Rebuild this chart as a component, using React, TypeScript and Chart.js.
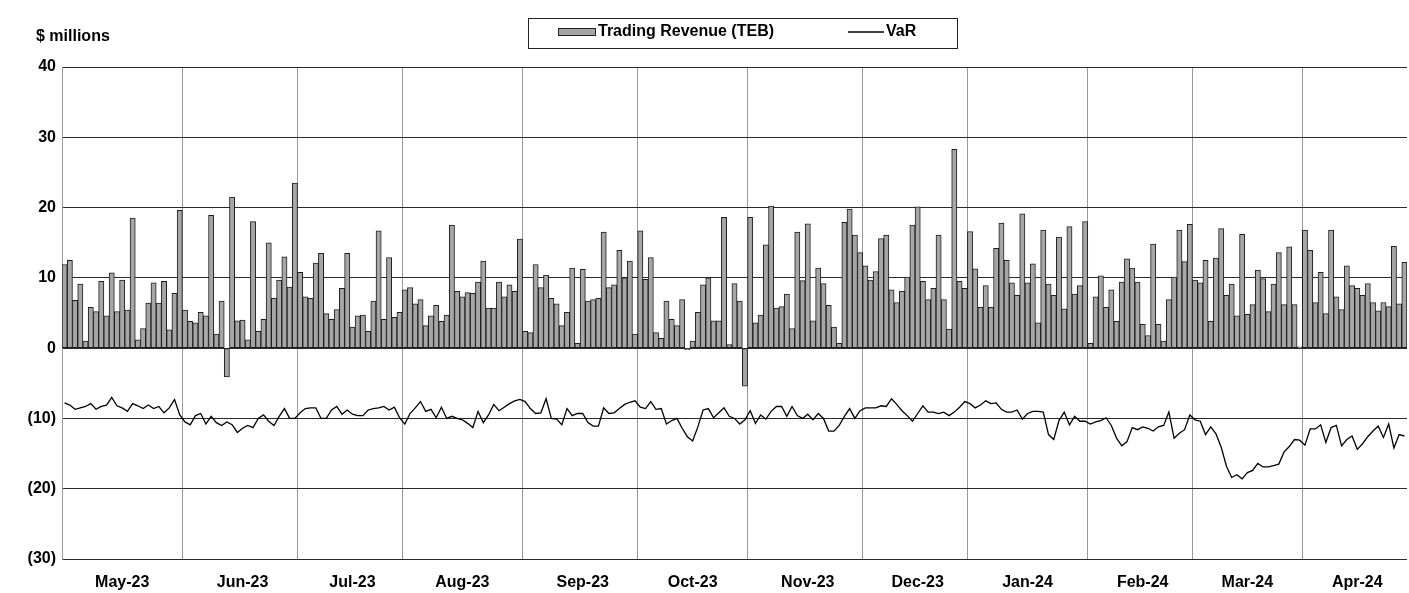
import React, { useEffect, useRef } from 'react';
import { Chart, registerables } from 'chart.js';

Chart.register(...registerables);

const months = ['May-23', 'Jun-23', 'Jul-23', 'Aug-23', 'Sep-23', 'Oct-23', 'Nov-23', 'Dec-23', 'Jan-24', 'Feb-24', 'Mar-24', 'Apr-24'];

// Daily trading revenue (TEB), $ millions
const revMay23 = [11.9, 12.5, 6.8, 9.1, 1.0, 5.8, 5.2, 9.5, 4.6, 10.7, 5.2, 9.7, 5.4, 18.5, 1.2, 2.8, 6.4, 9.3, 6.4, 9.5, 2.6, 7.8, 19.6];
const revJun23 = [5.4, 3.8, 3.6, 5.1, 4.6, 18.9, 2.0, 6.7, -4.1, 21.5, 3.9, 4.0, 1.2, 18.0, 2.4, 4.1, 15.0, 7.1, 9.7, 13.0, 8.7, 23.5];
const revJul23 = [10.8, 7.3, 7.1, 12.1, 13.5, 4.9, 4.1, 5.5, 8.5, 13.5, 3.0, 4.6, 4.7, 2.4, 6.7, 16.7, 4.1, 12.9, 4.4, 5.1];
const revAug23 = [8.3, 8.6, 6.3, 6.9, 3.2, 4.6, 6.1, 3.8, 4.7, 17.5, 8.1, 7.3, 7.9, 7.8, 9.4, 12.4, 5.7, 5.7, 9.4, 7.3, 9.0, 8.1, 15.5];
const revSep23 = [2.4, 2.2, 11.9, 8.6, 10.4, 7.1, 6.3, 3.2, 5.1, 11.4, 0.7, 11.2, 6.7, 6.9, 7.1, 16.5, 8.6, 9.0, 13.9, 10.0, 12.4, 2.0];
const revOct23 = [16.7, 9.8, 12.9, 2.2, 1.4, 6.7, 4.1, 3.2, 6.9, -0.2, 1.0, 5.1, 9.0, 10.0, 3.9, 3.9, 18.6, 0.5, 9.2, 6.7, -5.4];
const revNov23 = [18.6, 3.6, 4.7, 14.7, 20.2, 5.7, 5.9, 7.7, 2.8, 16.5, 9.6, 17.7, 3.9, 11.4, 9.2, 6.1, 3.0, 0.7, 17.9, 19.8, 16.1, 13.6];
const revDec23 = [11.7, 9.7, 10.9, 15.6, 16.1, 8.3, 6.5, 8.1, 10.1, 17.5, 20.1, 9.5, 6.9, 8.5, 16.1, 6.9, 2.7, 28.3, 9.5, 8.5];
const revJan24 = [16.6, 11.3, 5.8, 8.9, 5.8, 14.2, 17.8, 12.5, 9.3, 7.5, 19.1, 9.3, 12.0, 3.6, 16.8, 9.1, 7.5, 15.8, 5.6, 17.3, 7.7, 8.9, 18.0];
const revFeb24 = [0.7, 7.3, 10.3, 5.8, 8.3, 3.8, 9.4, 12.7, 11.4, 9.4, 3.4, 1.8, 14.8, 3.4, 1.0, 6.9, 10.1, 16.8, 12.3, 17.6];
const revMar24 = [9.7, 9.3, 12.5, 3.8, 12.8, 17.0, 7.5, 9.1, 4.6, 16.2, 4.8, 6.2, 11.1, 9.9, 5.2, 9.1, 13.6, 6.2, 14.4, 6.2, 0.2];
const revApr24 = [16.8, 13.9, 6.5, 10.8, 4.9, 16.8, 7.3, 5.5, 11.7, 8.9, 8.5, 7.5, 9.2, 6.5, 5.3, 6.5, 5.9, 14.5, 6.3, 12.2];

// Daily VaR, $ millions
const varMay23 = [-7.8, -8.1, -8.7, -8.5, -8.3, -7.9, -8.7, -8.3, -8.1, -7.0, -8.2, -8.5, -9.0, -7.9, -8.2, -8.6, -8.1, -8.6, -8.3, -9.2, -8.5, -7.3, -9.5];
const varJun23 = [-10.5, -10.9, -9.6, -9.3, -10.8, -9.7, -10.6, -11.0, -10.5, -10.9, -12.0, -11.4, -11.0, -11.3, -10.0, -9.5, -10.4, -11.0, -9.7, -8.6, -10.0, -10.0];
const varJul23 = [-9.2, -8.6, -8.5, -8.5, -10.0, -10.0, -8.8, -8.3, -9.4, -8.8, -9.4, -9.6, -9.6, -8.8, -8.6, -8.5, -8.3, -8.8, -8.4, -9.9];
const varAug23 = [-10.8, -9.3, -8.5, -7.6, -9.0, -8.7, -9.9, -8.4, -10.0, -9.7, -10.0, -10.2, -10.7, -11.3, -9.0, -10.6, -9.5, -8.0, -8.9, -8.4, -7.9, -7.5, -7.3];
const varSep23 = [-7.6, -8.6, -9.3, -9.2, -7.2, -10.0, -10.1, -10.9, -8.6, -9.6, -9.3, -9.3, -10.6, -11.1, -11.1, -8.5, -9.3, -9.2, -8.6, -8.0, -7.7, -7.5];
const varOct23 = [-8.4, -8.6, -7.6, -8.7, -8.6, -10.8, -10.3, -10.0, -11.4, -12.6, -13.2, -11.2, -8.8, -8.6, -9.9, -9.2, -8.5, -9.7, -10.0, -10.8, -10.2];
const varNov23 = [-8.9, -10.7, -9.5, -10.1, -9.0, -8.3, -8.3, -9.7, -8.3, -9.6, -10.0, -9.4, -10.2, -9.3, -10.0, -11.8, -11.8, -11.0, -9.7, -8.6, -10.0, -8.9];
const varDec23 = [-8.5, -8.5, -8.5, -8.2, -8.3, -7.2, -8.0, -8.9, -9.6, -10.4, -9.3, -8.2, -9.1, -9.1, -9.3, -9.1, -9.6, -9.1, -8.4, -7.6];
const varJan24 = [-7.9, -8.5, -8.1, -7.5, -7.9, -7.8, -8.7, -9.1, -9.1, -8.8, -10.1, -9.3, -9.0, -9.0, -9.1, -12.3, -13.0, -10.3, -9.1, -10.9, -9.7, -10.4, -10.4];
const varFeb24 = [-10.8, -10.5, -10.3, -9.9, -11.0, -12.8, -13.9, -13.3, -11.3, -11.6, -11.2, -11.4, -11.8, -11.2, -11.0, -9.1, -12.8, -12.1, -11.6, -9.5];
const varMar24 = [-10.2, -10.4, -12.3, -11.2, -12.2, -14.1, -16.8, -18.4, -18.0, -18.6, -17.7, -17.4, -16.4, -16.9, -16.9, -16.7, -16.5, -14.8, -14.0, -13.0, -13.1];
const varApr24 = [-13.8, -11.5, -11.5, -10.9, -13.4, -11.3, -11.0, -13.9, -13.0, -12.5, -14.4, -13.6, -12.6, -11.8, -11.1, -12.7, -10.8, -14.2, -12.3, -12.5];

const yMin = -30;
const yMax = 40;
const yStep = 10;

const revenueByMonth = [revMay23, revJun23, revJul23, revAug23, revSep23, revOct23, revNov23, revDec23, revJan24, revFeb24, revMar24, revApr24];
const varByMonth = [varMay23, varJun23, varJul23, varAug23, varSep23, varOct23, varNov23, varDec23, varJan24, varFeb24, varMar24, varApr24];

const labels: string[] = [];
const revenue: number[] = [];
const varValues: number[] = [];
const monthStarts = new Set<number>();
const monthLabelAt = new Map<number, string>();
revenueByMonth.forEach((arr, m) => {
  monthStarts.add(labels.length);
  monthLabelAt.set(labels.length + Math.floor(arr.length / 2), months[m]);
  arr.forEach((v, d) => {
    labels.push(`${months[m]} day ${d + 1}`);
    revenue.push(v);
    varValues.push(varByMonth[m][d]);
  });
});

const FONT_FAMILY = '"Liberation Sans", Arial, Helvetica, sans-serif';
const FONT_SIZE = 16;

const legendPlugin = {
  id: 'customLegend',
  afterDraw(chart: any) {
    const ctx = chart.ctx;
    ctx.save();
    ctx.strokeStyle = '#222';
    ctx.lineWidth = 1;
    ctx.strokeRect(528.5, 18.5, 429, 30);
    ctx.fillStyle = '#a6a6a6';
    ctx.fillRect(558, 28, 38, 8);
    ctx.strokeRect(558.5, 28.5, 37, 7);
    ctx.font = `bold ${FONT_SIZE}px ${FONT_FAMILY}`;
    ctx.fillStyle = '#000';
    ctx.textBaseline = 'middle';
    ctx.textAlign = 'left';
    ctx.fillText('Trading Revenue (TEB)', 598, 32);
    ctx.beginPath();
    ctx.strokeStyle = '#000';
    ctx.lineWidth = 1.3;
    ctx.moveTo(848, 32);
    ctx.lineTo(884, 32);
    ctx.stroke();
    ctx.fillText('VaR', 886, 32);
    ctx.fillText('$ millions', 36, 37);
    ctx.restore();
  },
};

export default function App() {
  const canvasRef = useRef<HTMLCanvasElement | null>(null);

  useEffect(() => {
    const canvas = canvasRef.current;
    if (!canvas) return;
    const chart = new Chart(canvas, {
      type: 'bar',
      data: {
        labels,
        datasets: [
          {
            type: 'line',
            label: 'VaR',
            data: varValues,
            borderColor: '#000',
            borderWidth: 1.3,
            pointRadius: 0,
            tension: 0,
            fill: false,
            order: 0,
          } as any,
          {
            type: 'bar',
            label: 'Trading Revenue (TEB)',
            data: revenue,
            backgroundColor: '#a6a6a6',
            borderColor: '#1e1e1e',
            borderWidth: 1,
            borderSkipped: false,
            barPercentage: 1,
            categoryPercentage: 1,
            order: 1,
          } as any,
        ],
      },
      options: {
        responsive: false,
        animation: false,
        layout: { padding: { top: 67, right: 2, left: 0, bottom: 0 } },
        plugins: {
          legend: { display: false },
          tooltip: { enabled: false },
          title: { display: false },
        },
        scales: {
          x: {
            grid: {
              offset: true,
              drawTicks: false,
              lineWidth: 1,
              color: (c: any) => (c.type === 'tick' && monthStarts.has(c.index) ? '#9a9a9a' : 'rgba(0,0,0,0)'),
            },
            border: { display: false },
            ticks: {
              autoSkip: false,
              maxRotation: 0,
              minRotation: 0,
              padding: 0,
              color: '#000',
              font: { family: FONT_FAMILY, size: FONT_SIZE, weight: 'bold', lineHeight: 3 },
              callback: (_v: any, i: number) => monthLabelAt.get(i) ?? '',
            },
            afterFit: (s: any) => {
              s.height = 34;
            },
          },
          y: {
            min: yMin,
            max: yMax,
            ticks: {
              stepSize: yStep,
              padding: 6,
              color: '#000',
              font: { family: FONT_FAMILY, size: FONT_SIZE, weight: 'bold' },
              callback: (v: any) => (v < 0 ? `(${-v})` : `${v}`),
            },
            grid: { color: '#2a2a2a', lineWidth: 1, drawTicks: false },
            border: { display: true, color: '#9a9a9a' },
            afterFit: (s: any) => {
              s.width = 62;
            },
          },
        },
      } as any,
      plugins: [legendPlugin],
    });
    return () => chart.destroy();
  }, []);

  return (
    <div style={{ position: 'absolute', left: 0, top: 0, width: 1409, height: 593, background: '#fff' }}>
      <canvas ref={canvasRef} width={1409} height={593} style={{ display: 'block' }} />
    </div>
  );
}
